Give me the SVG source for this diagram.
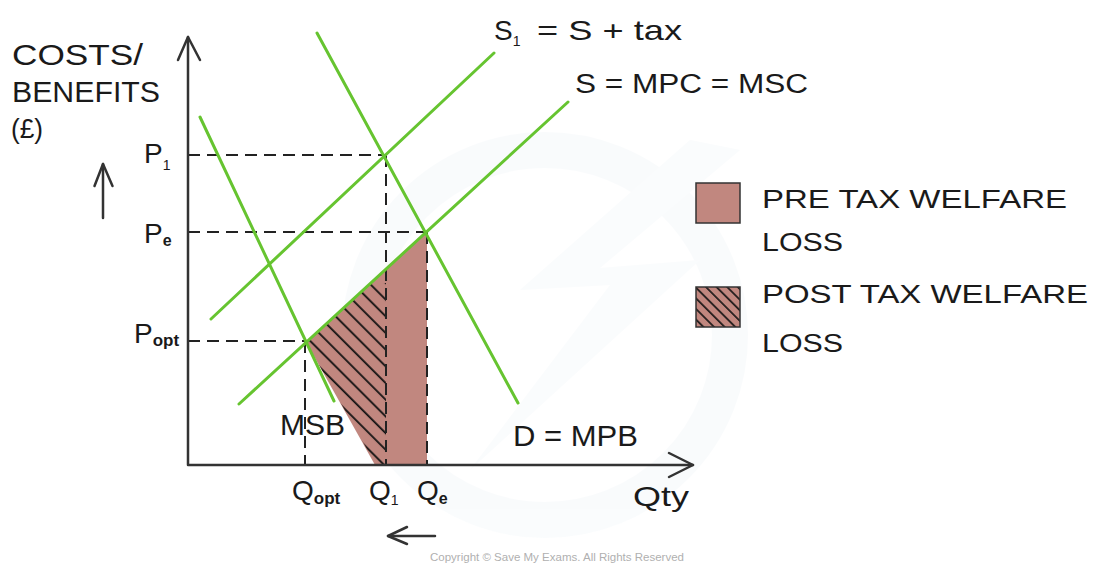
<svg xmlns="http://www.w3.org/2000/svg" width="1101" height="563" viewBox="0 0 1101 563">
<style>
  .txt { font-family: "Liberation Sans", Arial, sans-serif; fill: #1a1a1a; }
  .axis { stroke: #333; stroke-width: 2.5; fill: none; stroke-linecap: round; stroke-linejoin: round; }
  .dash { stroke: #222; stroke-width: 2; stroke-dasharray: 12 7; fill: none; }
  .curve { stroke: #66c430; stroke-width: 3; fill: none; stroke-linecap: round; }
  .pink { fill: #c1877f; }
  .box { stroke: #333; stroke-width: 1.5; }
</style>
<defs>
  <pattern id="hatch" patternUnits="userSpaceOnUse" width="20" height="11.8" patternTransform="rotate(45)">
    <rect x="0" y="9.1" width="20" height="1.8" fill="#111"/>
  </pattern>
  <pattern id="hatchLegend" patternUnits="userSpaceOnUse" width="20" height="7.5" patternTransform="rotate(45)">
    <rect x="0" y="3" width="20" height="1.6" fill="#111"/>
  </pattern>
  <clipPath id="hatchClip">
    <polygon points="306,342 370.8,283 386,283 386,465 376,465"/>
  </clipPath>
</defs>
<rect width="1101" height="563" fill="#ffffff"/>

<g id="watermark" opacity="0.3">
  <circle cx="545" cy="335" r="185" fill="none" stroke="#eef4f8" stroke-width="36"/>
  <polygon points="690,140 520,290 610,285 470,470 700,260 600,268 740,150" fill="#f1f6f9"/>
</g>

<g id="areas">
  <polygon id="pre-tax-loss" class="pink" points="306,342 427,232 427,465 375,465"/>
  <rect x="300" y="270" width="90" height="200" fill="url(#hatch)" clip-path="url(#hatchClip)"/>
</g>

<g id="guides">
  <line class="dash" x1="188" y1="155" x2="386" y2="155"/>
  <line class="dash" x1="188" y1="232" x2="427" y2="232"/>
  <line class="dash" x1="188" y1="341" x2="306" y2="341"/>
  <line class="dash" x1="305" y1="341" x2="305" y2="465"/>
  <line class="dash" x1="386" y1="155" x2="386" y2="465"/>
  <line class="dash" x1="427" y1="232" x2="427" y2="465"/>
</g>

<g id="connectors">
  <line id="S1" class="curve" x1="211" y1="319" x2="494" y2="53"/>
  <line id="S" class="curve" x1="239" y1="404" x2="568" y2="102"/>
  <line id="MSB" class="curve" x1="200" y1="117" x2="334" y2="401"/>
  <line id="D" class="curve" x1="317" y1="33" x2="518" y2="403"/>
</g>

<g id="axes">
  <polyline class="axis" points="188,37 188,465 693,465"/>
  <polyline class="axis" points="178,60 188,37 200,60"/>
  <polyline class="axis" points="669,453 693,465 669,477"/>
</g>

<g id="direction-arrows">
  <line class="axis" x1="103" y1="164" x2="103" y2="218" stroke-width="2"/>
  <polyline class="axis" points="94.5,186 103,164 112.5,186" stroke-width="2"/>
  <line class="axis" x1="388" y1="536" x2="435" y2="536" stroke-width="2"/>
  <polyline class="axis" points="407,527 388,536 407,544" stroke-width="2"/>
</g>

<g id="y-label">
  <text class="txt" x="12" y="65" font-size="30" textLength="131" lengthAdjust="spacingAndGlyphs">COSTS/</text>
  <text class="txt" x="12" y="102" font-size="30" textLength="148" lengthAdjust="spacingAndGlyphs">BENEFITS</text>
  <text class="txt" x="11" y="138" font-size="28" textLength="32" lengthAdjust="spacingAndGlyphs">(£)</text>
</g>

<g id="price-labels">
  <text class="txt" x="144" y="163" font-size="28">P<tspan font-size="14" dy="7">1</tspan></text>
  <text class="txt" x="144" y="243" font-size="28">P<tspan font-size="16" dy="3" font-weight="bold">e</tspan></text>
  <text class="txt" x="134" y="343" font-size="28">P<tspan font-size="17" dy="3" font-weight="bold">opt</tspan></text>
</g>

<g id="qty-labels">
  <text class="txt" x="292" y="500" font-size="28">Q<tspan font-size="17" dy="4" font-weight="bold">opt</tspan></text>
  <text class="txt" x="369" y="500" font-size="28">Q<tspan font-size="14" dy="5">1</tspan></text>
  <text class="txt" x="417" y="500" font-size="28">Q<tspan font-size="16" dy="4" font-weight="bold">e</tspan></text>
  <text class="txt" x="633" y="506" font-size="28" textLength="56" lengthAdjust="spacingAndGlyphs">Qty</text>
</g>

<g id="curve-labels">
  <text class="txt" x="494" y="40" font-size="28">S<tspan font-size="14" dy="6">1</tspan></text>
  <text class="txt" x="537" y="40" font-size="28" textLength="145" lengthAdjust="spacingAndGlyphs">= S + tax</text>
  <text class="txt" x="575" y="93" font-size="27" textLength="233" lengthAdjust="spacingAndGlyphs">S = MPC = MSC</text>
  <text class="txt" x="280" y="435" font-size="30" textLength="65" lengthAdjust="spacingAndGlyphs">MSB</text>
  <text class="txt" x="513" y="446" font-size="30" textLength="125" lengthAdjust="spacingAndGlyphs">D = MPB</text>
</g>

<g id="legend-pre">
  <rect class="pink box" x="696" y="183" width="44" height="40"/>
  <text class="txt" x="762" y="208" font-size="25" textLength="305" lengthAdjust="spacingAndGlyphs">PRE TAX WELFARE</text>
  <text class="txt" x="762" y="251" font-size="25" textLength="81" lengthAdjust="spacingAndGlyphs">LOSS</text>
</g>

<g id="legend-post">
  <rect class="pink" x="696" y="287" width="44" height="40"/>
  <rect x="696" y="287" width="44" height="40" fill="url(#hatchLegend)"/>
  <rect class="box" x="696" y="287" width="44" height="40" fill="none"/>
  <text class="txt" x="762" y="303" font-size="25" textLength="326" lengthAdjust="spacingAndGlyphs">POST TAX WELFARE</text>
  <text class="txt" x="762" y="352" font-size="25" textLength="81" lengthAdjust="spacingAndGlyphs">LOSS</text>
</g>

<text id="copyright" x="430" y="561" font-family="Liberation Sans, Arial, sans-serif" font-size="11" fill="#b0b0b0" textLength="254" lengthAdjust="spacingAndGlyphs">Copyright © Save My Exams. All Rights Reserved</text>
</svg>
